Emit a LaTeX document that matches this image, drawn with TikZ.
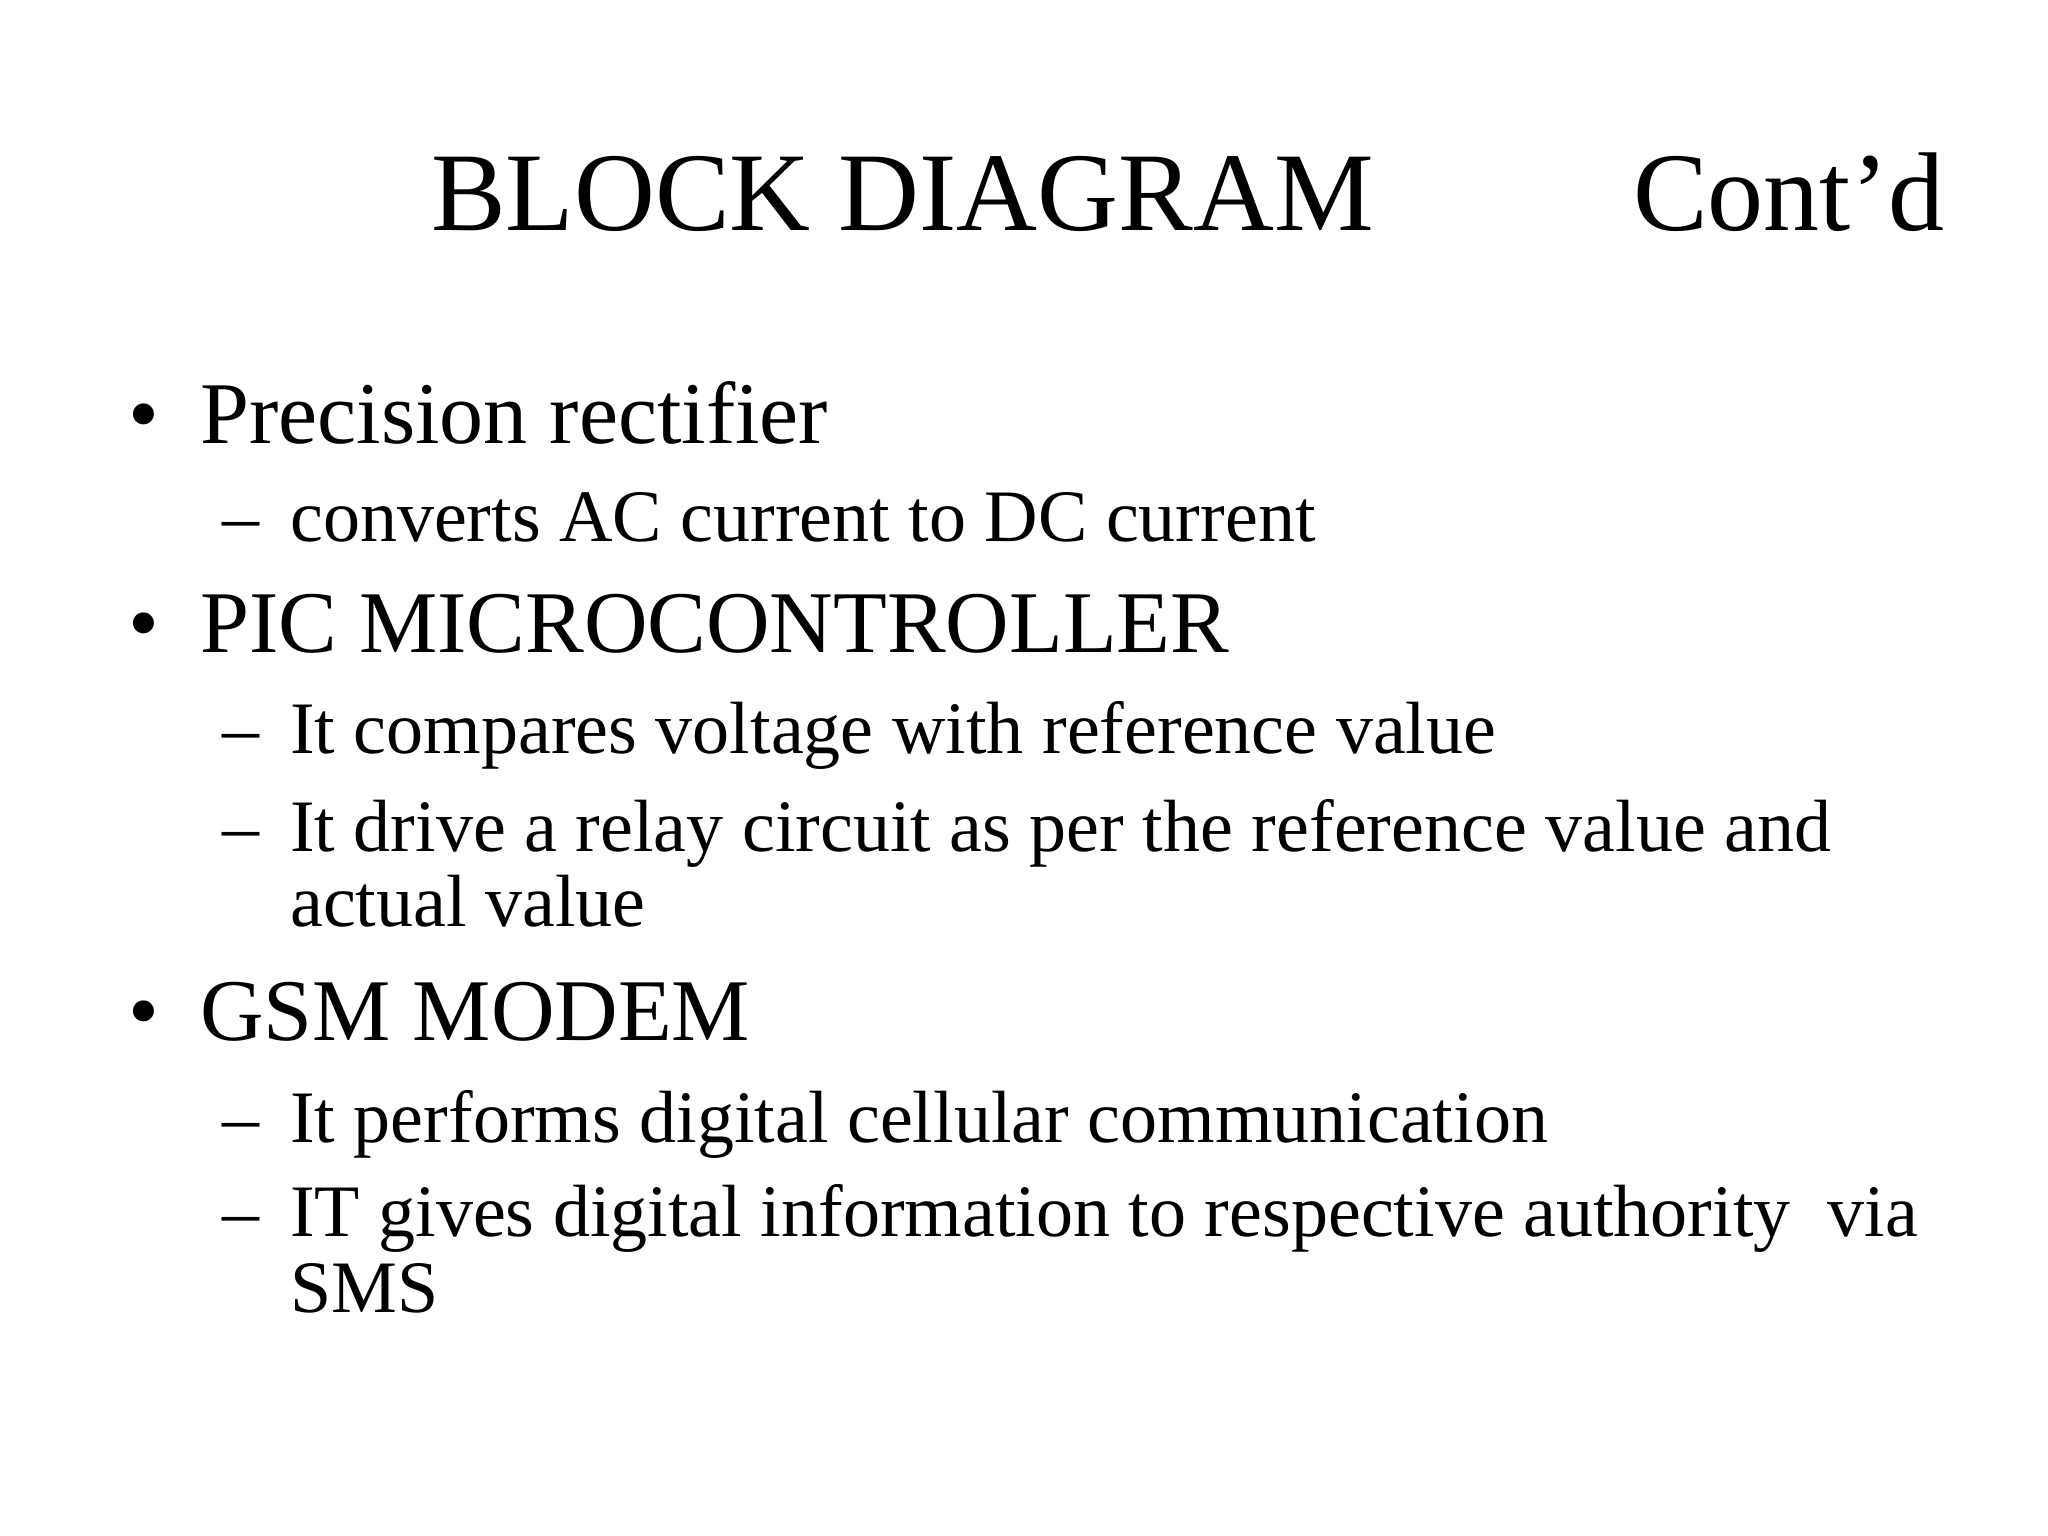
\documentclass[tikz,border=0pt]{standalone}
\usepackage{fontspec}
\setmainfont{Liberation Serif}
\begin{document}
\begin{tikzpicture}[x=1pt,y=1pt,
 t/.style={anchor=base west,inner sep=0pt,font=\fontsize{112}{120}\selectfont},
 l1/.style={anchor=base west,inner sep=0pt,font=\fontsize{88}{96}\selectfont},
 l2/.style={anchor=base west,inner sep=0pt,font=\fontsize{74}{80}\selectfont}]
\useasboundingbox (0,0) rectangle (2048,1536);
\node[t] (title) at (431,1305) {BLOCK DIAGRAM};
\node[t] (contd) at (1633,1305) {Cont’d};
\node[l1] (b1) at (128,1092) {•}; \node[l1] (p1) at (200,1092) {Precision rectifier};
\node[l2] (d1) at (222,994) {–}; \node[l2] (s1) at (290,994) {converts AC current to DC current};
\node[l1] (b2) at (128,883) {•}; \node[l1] (p2) at (200,883) {PIC MICROCONTROLLER};
\node[l2] (d2) at (222,782) {–}; \node[l2] (s2) at (290,782) {It compares voltage with reference value};
\node[l2] (d3) at (222,684) {–}; \node[l2] (s3) at (290,684) {It drive a relay circuit as per the reference value and};
\node[l2] (s3b) at (290,609) {actual value};
\node[l1] (b3) at (128,495) {•}; \node[l1] (p3) at (200,495) {GSM MODEM};
\node[l2] (d4) at (222,393) {–}; \node[l2] (s4) at (290,393) {It performs digital cellular communication};
\node[l2] (d5) at (222,299) {–}; \node[l2] (s5) at (290,299) {IT gives digital information to respective authority\ \ via};
\node[l2] (s5b) at (290,223) {SMS};
\end{tikzpicture}
\end{document}
